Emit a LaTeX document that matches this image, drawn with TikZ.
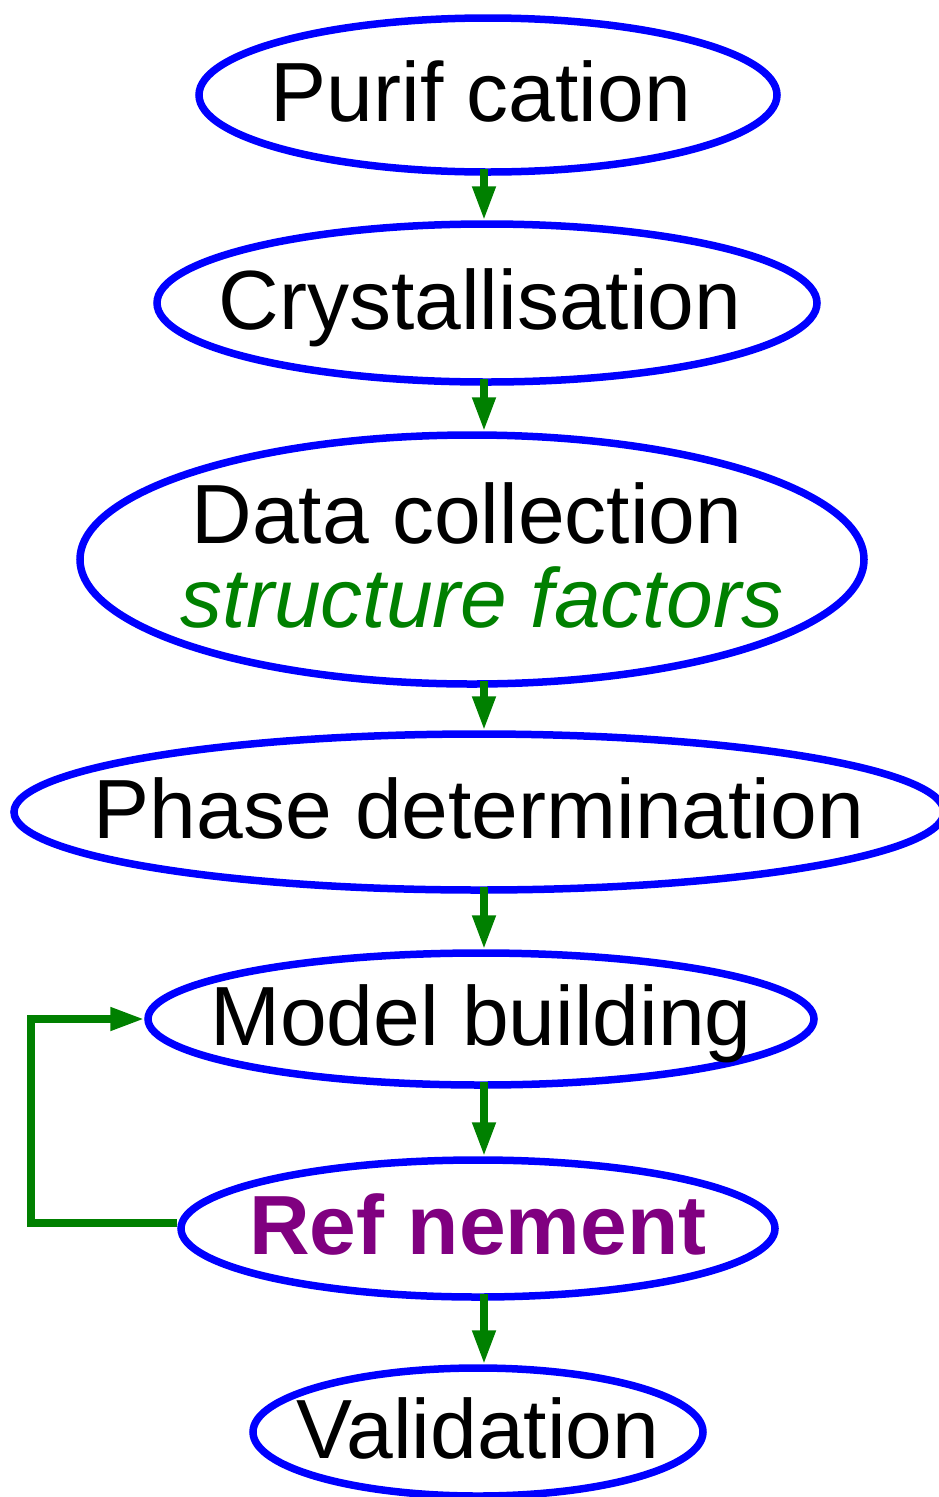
\documentclass[tikz,border=0pt]{standalone}
\usepackage{fontspec}
\setmainfont{Liberation Sans}
\usetikzlibrary{arrows.meta,calc,shapes.geometric}
\definecolor{eblue}{RGB}{0,0,255}
\definecolor{egreen}{RGB}{0,128,0}
\definecolor{epurple}{RGB}{128,0,128}
\begin{document}
\begin{tikzpicture}[x=1pt,y=-1pt,
  stage/.style={ellipse, draw=eblue, line width=7.5pt, inner sep=0pt,
    font=\fontsize{84pt}{100pt}\selectfont, text height=52pt, text depth=0pt},
  lbl/.style={inner sep=0pt, font=\fontsize{84pt}{100pt}\selectfont, anchor=base},
  flow/.style={draw=egreen, line width=7.5pt, -{Triangle[length=34pt,width=22pt]}}]
\useasboundingbox (0,0) rectangle (939,1497);
\clip (0,0) rectangle (939,1497);

\node[stage, minimum width=578pt, minimum height=154pt] (pur) at (488,95) {\makebox[0pt]{Purif cation\kern14pt}};
\node[stage, minimum width=660pt, minimum height=158pt] (cry) at (487,303) {\makebox[0pt]{Crystallisation\kern14pt}};
\node[stage, minimum width=784pt, minimum height=249pt] (dc) at (472,559.5) {};
\node[lbl] (dc1) at (467,543) {Data collection};
\node[lbl, text=egreen, font=\fontsize{84pt}{100pt}\selectfont\itshape] (dc2) at (482,627) {structure factors};
\node[stage, minimum width=930pt, minimum height=156pt] (ph) at (479,812) {\makebox[0pt]{Phase determination}};
\node[stage, minimum width=666pt, minimum height=132pt] (mb) at (481,1019) {\makebox[0pt]{Model building}};
\node[stage, minimum width=594pt, minimum height=137pt, text=epurple,
  font=\fontsize{84pt}{100pt}\selectfont\bfseries] (ref) at (478,1228.5) {\makebox[0pt]{Ref nement}};
\node[stage, minimum width=450pt, minimum height=128pt] (val) at (478,1432) {\makebox[0pt]{Validation}};

\coordinate (ax) at (484,0);
\draw[flow] ([yshift=7pt]pur.south -| ax) -- (cry.north -| ax);
\draw[flow] ([yshift=7pt]cry.south -| ax) -- (dc.north -| ax);
\draw[flow] ([yshift=7pt]dc.south -| ax) -- (ph.north -| ax);
\draw[flow] ([yshift=7pt]ph.south -| ax) -- (mb.north -| ax);
\draw[flow] ([yshift=7pt]mb.south -| ax) -- (ref.north -| ax);
\draw[flow] ([yshift=7pt]ref.south -| ax) -- (val.north -| ax);

\coordinate (fb) at (31,1223);
\draw[flow] (fb -| ref.west) -- (fb) |- (mb.west);
\end{tikzpicture}
\end{document}
